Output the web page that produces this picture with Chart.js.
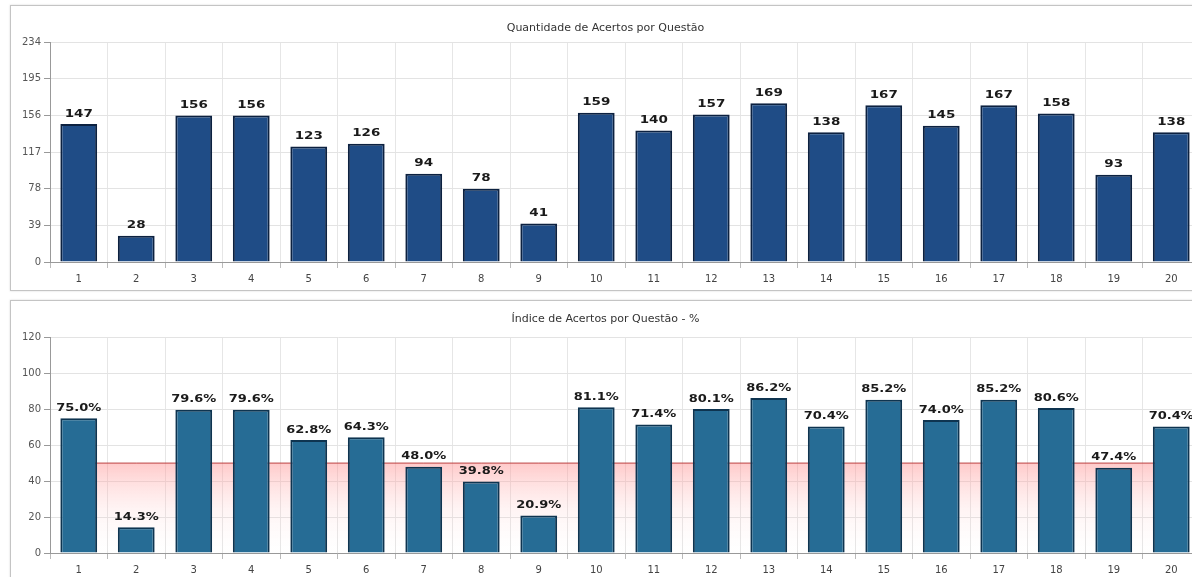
<!DOCTYPE html>
<html lang="pt-BR">
<head>
<meta charset="utf-8">
<title>Acertos por Questão</title>
<script src="https://cdn.jsdelivr.net/npm/chart.js@4.4.1/dist/chart.umd.min.js"></script>
<style>
  html, body { margin: 0; padding: 0; background: #fff; overflow: hidden; width: 1192px; height: 577px; }
  .painel {
    position: absolute;
    left: 10px;
    width: 1189px;
    height: 284px;
    border: 1px solid #c4c4c4;
    box-shadow: 0 0 2px rgba(0,0,0,0.15);
    background: #fff;
  }
  #painelQtd { top: 5px; }
  #painelIdx { top: 300px; }
</style>
</head>
<body>
<div class="painel" id="painelQtd"><canvas id="graficoQtd"></canvas></div>
<div class="painel" id="painelIdx"><canvas id="graficoIdx"></canvas></div>

<script>
// Dados
const questoes = ['1','2','3','4','5','6','7','8','9','10','11','12','13','14','15','16','17','18','19','20'];
const acertos = [147, 28, 156, 156, 123, 126, 94, 78, 41, 159, 140, 157, 169, 138, 167, 145, 167, 158, 93, 138];
const indiceAcertos = [75.0, 14.3, 79.6, 79.6, 62.8, 64.3, 48.0, 39.8, 20.9, 81.1, 71.4, 80.1, 86.2, 70.4, 85.2, 74.0, 85.2, 80.6, 47.4, 70.4];
const linhaMinima = [50, 50, 50, 50, 50, 50, 50, 50, 50, 50, 50, 50, 50, 50, 50, 50, 50, 50, 50, 50];
const ticksQtd = [0, 39, 78, 117, 156, 195, 234];
const ticksIdx = [0, 20, 40, 60, 80, 100, 120];

const fonte = "'DejaVu Sans', Verdana, sans-serif";

// Plugin simples para escrever o valor acima de cada barra
// (o original tem o texto um pouco "esticado" na horizontal)
const rotulosBarras = {
  id: 'rotulosBarras',
  afterDatasetsDraw(chart, args, opts) {
    const ctx = chart.ctx;
    const esticar = opts.esticar || 1;
    chart.data.datasets.forEach((ds, i) => {
      if (ds.type === 'line') return;
      const meta = chart.getDatasetMeta(i);
      meta.data.forEach((bar, j) => {
        const v = ds.data[j];
        const txt = opts.formato ? opts.formato(v) : String(v);
        ctx.save();
        ctx.translate(bar.x, bar.y - 5);
        ctx.scale(esticar, 1);
        ctx.font = 'bold 10px ' + fonte;
        ctx.fillStyle = '#1a1a1a';
        ctx.textAlign = 'center';
        ctx.textBaseline = 'bottom';
        ctx.fillText(txt, 0, 0);
        ctx.restore();
      });
    });
  }
};

function eixoY(ticks, max) {
  return {
    min: 0,
    max: max,
    afterBuildTicks: (scale) => { scale.ticks = ticks.map(v => ({ value: v })); },
    afterFit: (scale) => { scale.width = 39; },
    grid: { color: '#e3e3e3', tickLength: 6, tickColor: '#999' },
    border: { color: '#999' },
    ticks: { color: '#555', font: { family: fonte, size: 10 }, padding: 3 }
  };
}

function eixoX() {
  return {
    grid: { color: '#e6e6e6', offset: true, tickLength: 6, tickColor: '#bbb' },
    border: { color: '#999' },
    ticks: { color: '#444', font: { family: fonte, size: 10 }, padding: 5 }
  };
}

new Chart(document.getElementById('graficoQtd'), {
  type: 'bar',
  data: {
    labels: questoes,
    datasets: [{
      label: 'Acertos',
      data: acertos,
      backgroundColor: '#1f4c86',
      borderColor: '#0c2140',
      borderWidth: 2,
      barPercentage: 0.64,
      categoryPercentage: 1
    }]
  },
  options: {
    responsive: true,
    maintainAspectRatio: false,
    animation: false,
    layout: { padding: { left: 0, right: 0, top: 0, bottom: 0 } },
    plugins: {
      legend: { display: false },
      tooltip: { enabled: false },
      title: {
        display: true,
        text: 'Quantidade de Acertos por Questão',
        color: '#333',
        font: { family: fonte, size: 11, weight: 'normal' },
        padding: { top: 16, bottom: 7 }
      },
      rotulosBarras: { esticar: 1.35 }
    },
    scales: { x: eixoX(), y: eixoY(ticksQtd, 234) }
  },
  plugins: [rotulosBarras]
});

new Chart(document.getElementById('graficoIdx'), {
  type: 'bar',
  data: {
    labels: questoes,
    datasets: [{
      label: 'Índice',
      data: indiceAcertos,
      backgroundColor: '#266c95',
      borderColor: '#0e3450',
      borderWidth: 2,
      barPercentage: 0.64,
      categoryPercentage: 1,
      order: 1
    }, {
      type: 'line',
      label: 'Mínimo',
      data: linhaMinima,
      borderColor: 'rgba(180, 50, 50, 0.9)',
      borderWidth: 1,
      pointRadius: 0,
      fill: 'origin',
      order: 2,
      backgroundColor: (context) => {
        const chart = context.chart;
        if (!chart.chartArea) return 'rgba(255,180,180,0.3)';
        const y = chart.scales.y;
        const g = chart.ctx.createLinearGradient(0, y.getPixelForValue(50), 0, y.getPixelForValue(0));
        g.addColorStop(0, 'rgba(255, 150, 150, 0.5)');
        g.addColorStop(0.5, 'rgba(255, 195, 195, 0.2)');
        g.addColorStop(1, 'rgba(255, 230, 230, 0.0)');
        return g;
      }
    }]
  },
  options: {
    responsive: true,
    maintainAspectRatio: false,
    animation: false,
    layout: { padding: { left: 0, right: 0, top: 0, bottom: 4 } },
    plugins: {
      legend: { display: false },
      tooltip: { enabled: false },
      title: {
        display: true,
        text: 'Índice de Acertos por Questão - %',
        color: '#333',
        font: { family: fonte, size: 11, weight: 'normal' },
        padding: { top: 12, bottom: 11 }
      },
      rotulosBarras: { esticar: 1.3, formato: (v) => v.toFixed(1) + '%' }
    },
    scales: { x: eixoX(), y: eixoY(ticksIdx, 120) }
  },
  plugins: [rotulosBarras]
});
</script>
</body>
</html>
